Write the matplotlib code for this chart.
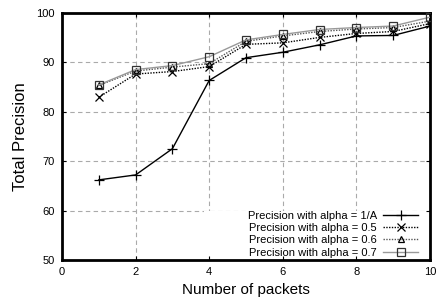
import matplotlib.pyplot as plt
from matplotlib.patches import Rectangle

plt.rcParams['font.family'] = ['Liberation Sans', 'DejaVu Sans']

packets = [1, 2, 3, 4, 5, 6, 7, 8, 9, 10]
prec_1a = [66.2, 67.2, 72.5, 86.3, 90.9, 92.0, 93.5, 95.3, 95.4, 97.3]
prec_05 = [82.9, 87.6, 88.1, 89.1, 93.6, 93.9, 95.0, 95.8, 96.2, 97.8]
prec_06 = [85.3, 88.2, 89.0, 89.7, 94.2, 95.3, 96.2, 96.7, 97.0, 98.3]
prec_07 = [85.4, 88.5, 89.3, 91.1, 94.5, 95.6, 96.6, 97.0, 97.3, 99.1]

xticks = [0, 2, 4, 6, 8, 10]
yticks = [50, 60, 70, 80, 90, 100]

fig = plt.figure(figsize=(4.39, 3.02), dpi=100)
ax = fig.add_axes([0.1412, 0.139, 0.8383, 0.819])

# dashed gray grid
for x in xticks[1:-1]:
    ax.axvline(x, color='#aaaaaa', ls=(0, (4, 3)), lw=0.8, zorder=0)
for y in yticks[1:-1]:
    ax.axhline(y, color='#aaaaaa', ls=(0, (4, 3)), lw=0.8, zorder=0)

ax.plot(packets, prec_1a, color='black', lw=1.0, marker='+', ms=7, mew=0.9,
        label='Precision with alpha = 1/A', zorder=3)
ax.plot(packets, prec_05, color='black', lw=1.0, ls=(0, (1, 1)), marker='x', ms=5.5,
        mew=0.9, label='Precision with alpha = 0.5', zorder=3)
ax.plot(packets, prec_06, color='#555555', lw=1.0, ls=(0, (1, 1)), marker='^', ms=5,
        mfc='none', mec='black', mew=0.9, label='Precision with alpha = 0.6', zorder=3)
ax.plot(packets, prec_07, color='#999999', lw=1.0, marker='s', ms=5.5,
        mfc='none', mec='#333333', mew=0.9, label='Precision with alpha = 0.7', zorder=3)

# white box behind the key hides the grid
ax.add_patch(Rectangle((3.85, 50), 6.15, 10, facecolor='white', edgecolor='none', zorder=1))

ax.set_xlim(0, 10)
ax.set_ylim(50, 100)
ax.set_xticks(xticks)
ax.set_yticks(yticks)
ax.tick_params(direction='in', top=True, right=True, labelsize=8, length=3, pad=5)
for s in ax.spines.values():
    s.set_linewidth(2)

ax.set_xlabel('Number of packets', fontsize=11, labelpad=4)
ax.set_ylabel('Total Precision', fontsize=12, labelpad=6)

leg = ax.legend(loc='lower right', bbox_to_anchor=(0.967, 0.01), fontsize=8,
                frameon=False, markerfirst=False, handlelength=3.1,
                handletextpad=0.6, labelspacing=0.2, borderaxespad=0, borderpad=0)
for col in leg._legend_handle_box.get_children():
    col.align = 'right'
leg.set_zorder(5)

fig.savefig('out.png', dpi=100)
